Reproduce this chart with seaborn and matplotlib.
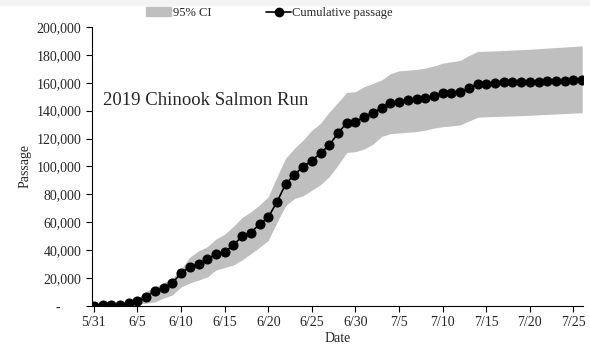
import numpy as np
import pandas as pd
import matplotlib
matplotlib.use("Agg")
import matplotlib.pyplot as plt
import matplotlib.ticker as mticker
from matplotlib.patches import Patch, Rectangle
from matplotlib.lines import Line2D
import seaborn as sns

# daily cumulative passage, 5/31 .. 7/26
start_date = "2019-05-31"
passage = [0, 700, 900, 1000, 1900, 3600, 6700, 11000, 13100, 16500,
           23400, 28200, 30100, 33500, 37300, 38900, 43500, 50200, 52600, 58600,
           63600, 74600, 87500, 94100, 99900, 104200, 109500, 115400, 123800, 131400,
           132000, 135700, 138200, 142200, 145800, 146500, 147700, 148200, 148900, 150600,
           152500, 152600, 153000, 156100, 159200, 159400, 159700, 160200, 160400, 160500,
           160600, 160700, 160900, 161100, 161500, 161800, 162000]
ci_upper = [0, 900, 1200, 1500, 3000, 5000, 10300, 13600, 16500, 20000,
            26500, 35000, 39500, 42500, 48000, 51500, 57000, 63500, 67500, 72400,
            78400, 92700, 106000, 113000, 119000, 126000, 131000, 139000, 146000, 153000,
            153600, 157200, 159500, 162000, 166500, 168500, 169000, 169500, 170500, 172000,
            174000, 175000, 176000, 179500, 182400, 182600, 182800, 183100, 183400, 183700,
            184000, 184400, 184800, 185200, 185600, 186000, 186400]
ci_lower = [0, 500, 600, 700, 1000, 1500, 2000, 3000, 5700, 7900,
            13600, 16500, 18600, 20800, 25800, 27500, 29400, 33000, 37500, 42000,
            47000, 60000, 72000, 77000, 79000, 83000, 87000, 92700, 101000, 110000,
            110600, 112500, 116000, 121500, 123500, 124000, 124500, 125000, 126000, 127500,
            128500, 129000, 129800, 132500, 135300, 135600, 135800, 136000, 136200, 136400,
            136700, 137000, 137300, 137600, 137900, 138200, 138500]
tick_labels = ["5/31", "6/5", "6/10", "6/15", "6/20", "6/25", "6/30",
               "7/5", "7/10", "7/15", "7/20", "7/25"]

dates = pd.date_range(start_date, periods=len(passage), freq="D")
df = pd.DataFrame({"date": dates, "passage": passage,
                   "upper": ci_upper, "lower": ci_lower})

sns.set_style("ticks")
plt.rcParams["font.family"] = ["Liberation Serif", "DejaVu Serif"]

fig = plt.figure(figsize=(5.9, 3.45), dpi=100)
fig.patches.append(Rectangle((0, 0.985), 1, 0.015, transform=fig.transFigure,
                             color="#f4f4f4", zorder=-1))
ax = fig.add_axes([0.156, 0.113, 0.832, 0.809])

ax.fill_between(df["date"], df["lower"], df["upper"], color="#bfbfbf", lw=0)
sns.lineplot(data=df, x="date", y="passage", ax=ax, color="black", lw=1.2,
             marker="o", markersize=6.5, markeredgecolor="black")

ax.set_ylim(0, 200000)
ax.yaxis.set_major_locator(mticker.MultipleLocator(20000))
ax.yaxis.set_major_formatter(mticker.FuncFormatter(
    lambda v, p: "-      " if v == 0 else f"{int(v):,}"))
ax.set_xlim(dates[0] - pd.Timedelta(hours=5), dates[-1] + pd.Timedelta(hours=2))
tick_pos = pd.date_range(start_date, periods=len(tick_labels), freq="5D")
ax.set_xticks(tick_pos)
ax.set_xticklabels(tick_labels)
ax.tick_params(labelsize=10, length=4, width=0.8, color="black")

for s in ["top", "right"]:
    ax.spines[s].set_visible(False)
for s in ["left", "bottom"]:
    ax.spines[s].set_color("black")
    ax.spines[s].set_linewidth(0.8)

ax.set_xlabel("Date", fontsize=10, labelpad=2)
ax.set_ylabel("Passage", fontsize=10, labelpad=4)

ax.text(0.022, 0.738, "2019 Chinook Salmon Run", transform=ax.transAxes,
        fontsize=13.5, va="center")

handles = [Patch(color="#bfbfbf"),
           Line2D([], [], color="black", lw=1.2, marker="o", markersize=6)]
ax.legend(handles, ["95% CI", "Cumulative passage"], ncol=2, frameon=False,
          loc="center", bbox_to_anchor=(0.362, 1.05), fontsize=9,
          handlelength=2.0, handletextpad=0.1, columnspacing=4.4)

plt.savefig("out.png", dpi=100)
